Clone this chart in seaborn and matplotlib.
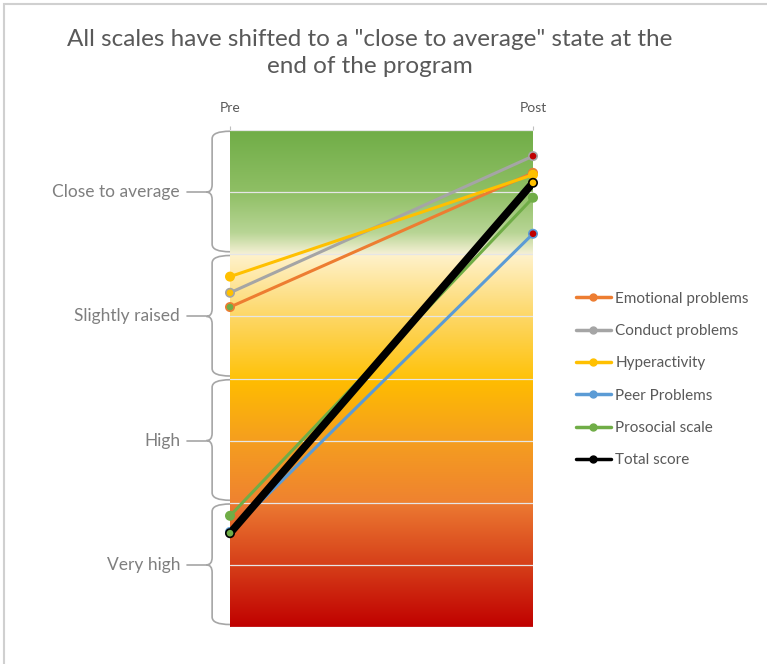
import numpy as np
import pandas as pd
import matplotlib
matplotlib.use("Agg")
import matplotlib.pyplot as plt
from matplotlib.path import Path
from matplotlib.patches import PathPatch, Rectangle
from matplotlib.lines import Line2D
import matplotlib.transforms as mtransforms
import seaborn as sns

# ---- data ----
time_points = ["Pre", "Post"]
scales = ["Emotional problems", "Conduct problems", "Hyperactivity",
          "Peer Problems", "Prosocial scale", "Total score"]
pre_scores = [5.15, 5.38, 5.64, 1.53, 1.79, 1.51]
post_scores = [7.31, 7.58, 7.28, 6.33, 6.91, 7.15]
band_labels = ["Very high", "High", "Slightly raised", "Close to average"]
band_edges = [0, 2, 4, 6, 8]

line_colors = ["#ED7D31", "#A5A5A5", "#FFC000", "#5B9BD5", "#70AD47", "#000000"]
line_widths = [2.2, 2.2, 2.2, 2.2, 2.2, 5.5]
# marker fill per point (pre, post)
marker_faces = [("#70AD47", "#70AD47"), ("#FFC000", "#C00000"), ("#FFC000", "#FFC000"),
                ("#70AD47", "#C00000"), ("#70AD47", "#70AD47"), ("#70AD47", "#FFC000")]

df = pd.DataFrame({
    "scale": np.repeat(scales, 2),
    "time": time_points * len(scales),
    "x": [0, 1] * len(scales),
    "score": [v for pair in zip(pre_scores, post_scores) for v in pair],
})

sns.set_style("white")
plt.rcParams["font.family"] = ["Lato", "DejaVu Sans"]
text_gray = "#595959"

fig = plt.figure(figsize=(7.67, 6.64), dpi=100)
ax = fig.add_axes([230 / 767, 1 - 627 / 664, 303 / 767, 497 / 664])

# ---- background gradient (red at the bottom to green at the top) ----
stops_v = [0, 1, 2, 2.0001, 3, 4, 4.0001, 5, 6, 6.0001, 6.35, 7, 8]
stops_c = ["#C00000", "#D63F19", "#EC7A32", "#EF8230", "#F59E1F", "#FFBD00",
           "#FFC20A", "#FDD766", "#FFF2CC", "#F7F1D6", "#B8D595", "#8FBF65", "#70AD47"]
rgb = np.array([matplotlib.colors.to_rgb(c) for c in stops_c])
vals = np.linspace(0, 8, 1000)
grad = np.stack([np.interp(vals, stops_v, rgb[:, k]) for k in range(3)], axis=-1)
ax.imshow(grad[:, None, :], extent=[0, 1, 0, 8], origin="lower",
          aspect="auto", zorder=0, interpolation="bilinear")

# ---- lines ----
for i, s in enumerate(scales):
    sub = df[df["scale"] == s]
    sns.lineplot(data=sub, x="x", y="score", color=line_colors[i],
                 linewidth=line_widths[i], ax=ax, zorder=3 + i * 0.1,
                 solid_capstyle="round", legend=False)
    ax.scatter(sub["x"], sub["score"], s=36, c=list(marker_faces[i]),
               edgecolors=line_colors[i], linewidths=1.2,
               zorder=3.05 + i * 0.1, clip_on=False)

ax.set_xlim(0, 1)
ax.set_ylim(0, 8)
ax.set_xlabel("")
ax.set_ylabel("")
ax.set_xticks([0, 1])
ax.set_xticklabels(time_points)
ax.xaxis.tick_top()
ax.tick_params(axis="x", length=3, color="#BFBFBF", labelsize=10,
               labelcolor=text_gray, pad=8.5)
ax.set_yticks(range(9))
ax.set_yticklabels([])
ax.tick_params(axis="y", length=0)
ax.grid(axis="y", color="#E6E6E6", linewidth=0.9)
ax.grid(axis="x", visible=False)
ax.set_axisbelow(False)
for sp in ax.spines.values():
    sp.set_visible(False)

# ---- braces and band names ----
trans = mtransforms.blended_transform_factory(ax.transAxes, ax.transData)
xv, xt, r = -0.059, -0.078, 0.12
for lab, lo, hi in zip(band_labels, band_edges[:-1], band_edges[1:]):
    top, bot, mid = hi - 0.02, lo + 0.04, (lo + hi) / 2
    verts = [(0, top), (xv, top), (xv, top - r),
             (xv, mid + r), (xv, mid), (xt, mid),
             (xv, mid), (xv, mid - r),
             (xv, bot + r), (xv, bot), (0, bot)]
    codes = [Path.MOVETO, Path.CURVE3, Path.CURVE3,
             Path.LINETO, Path.CURVE3, Path.CURVE3,
             Path.CURVE3, Path.CURVE3,
             Path.LINETO, Path.CURVE3, Path.CURVE3]
    ax.add_patch(PathPatch(Path(verts, codes), transform=trans, fill=False,
                           edgecolor="#A6A6A6", linewidth=1.2, clip_on=False))
    ax.plot([-0.142, xt], [mid, mid], color="#A6A6A6", linewidth=1.2,
            transform=trans, clip_on=False)
    ax.text(-0.165, mid, lab, transform=trans, ha="right", va="center",
            fontsize=12.5, color="#7F7F7F")

# ---- legend ----
handles = [Line2D([0], [0], color=c, linewidth=2.5, marker="o", markersize=5)
           for c in line_colors]
fig.legend(handles, scales, loc="upper left", bbox_to_anchor=(562 / 767, 1 - 278 / 664),
           frameon=False, fontsize=11, labelcolor=text_gray, handlelength=2.3,
           handletextpad=0.3, labelspacing=1.2)

# ---- title ----
fig.text(370 / 767, 1 - 53 / 664,
         "All scales have shifted to a \"close to average\" state at the\nend of the program",
         ha="center", va="center", fontsize=17.5, color=text_gray, linespacing=1.38)

# chart frame
fig.patches.append(Rectangle((4 / 767, -0.02), 1.0, 1 - 4 / 664 + 0.02,
                             transform=fig.transFigure, fill=False,
                             edgecolor="#D0D0D0", linewidth=1.5))

fig.savefig("out.png", dpi=100)
